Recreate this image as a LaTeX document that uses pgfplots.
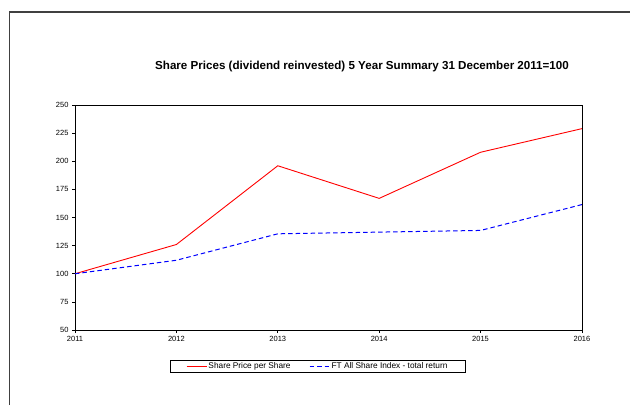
\documentclass[border=0pt]{standalone}
\usepackage{pgfplots}
\pgfplotsset{compat=1.18}
\usepackage{fontspec}
\setmainfont{Liberation Sans}
\begin{document}
\begin{tikzpicture}[x=1pt,y=1pt]
\useasboundingbox (0,0) rectangle (630,405);
\draw[line width=1.3pt, black!75] (9.3,0) -- (9.3,393) -- (631,393);
\node[font=\fontsize{11.6}{13}\selectfont\bfseries] at (362,338) {Share Prices (dividend reinvested) 5 Year Summary 31 December 2011=100};
\begin{axis}[
  at={(75pt,75pt)}, anchor=south west,
  scale only axis, width=507pt, height=225pt,
  xmin=2011, xmax=2016, ymin=50, ymax=250,
  xtick={2011,...,2016}, ytick={50,75,...,250},
  xticklabel style={/pgf/number format/1000 sep={}},
  tick label style={font=\fontsize{7.5}{8}\selectfont},
  /pgf/number format/assume math mode=true,
  tick align=outside, tick pos=left,
  major tick length=3pt,
  axis line style={line width=0.9pt},
  every tick/.style={line width=0.6pt},
  legend image code/.code={\draw[#1] (0pt,0pt) -- (20pt,0pt);},
  legend style={at={(axis description cs:0.4783,-0.1622)}, anchor=center, font=\fontsize{8.3}{9}\selectfont, draw=black, line width=0.6pt, inner xsep=16pt, inner ysep=0.5pt, nodes={inner sep=1.5pt}, legend columns=2},
  legend cell align=left,
]
\addplot[red, line width=0.9pt] coordinates {(2011,100) (2012,126) (2013,196) (2014,167) (2015,208) (2016,229)};
\addlegendentry{Share Price per Share\rule{17pt}{0pt}}
\addplot[blue, line width=1pt, dash pattern=on 4.5pt off 3pt] coordinates {(2011,100) (2012,112) (2013,135.5) (2014,137) (2015,138.5) (2016,161.5)};
\addlegendentry{FT All Share Index - total return}
\end{axis}
\end{tikzpicture}
\end{document}
